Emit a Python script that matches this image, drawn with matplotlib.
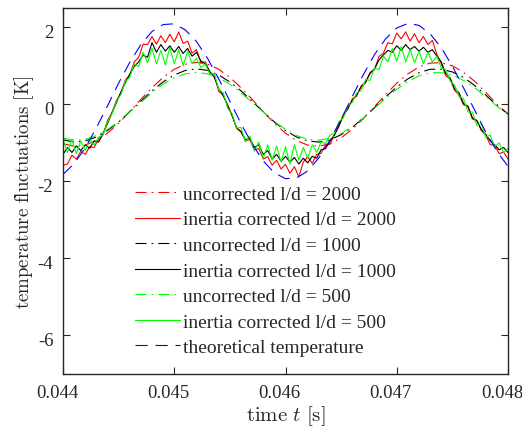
import numpy as np
import matplotlib
matplotlib.use("Agg")
import matplotlib.pyplot as plt
import matplotlib.transforms as mtransforms

plt.rcParams['font.family'] = ['Liberation Serif', 'DejaVu Serif']
plt.rcParams['mathtext.fontset'] = 'cm'
plt.rcParams['axes.unicode_minus'] = False

# smooth curves, sampled every 0.1 ms
t_smooth = np.linspace(0.044, 0.048, 41)

theoretical = [-1.82, -1.54, -1.13, -0.61, -0.04, 0.55, 1.09, 1.55, 1.89, 2.07,
               2.09, 1.93, 1.63, 1.19, 0.66, 0.08, -0.50, -1.03, -1.47, -1.78,
               -1.93, -1.91, -1.73, -1.39, -0.93, -0.39, 0.20, 0.77, 1.29, 1.70,
               1.98, 2.10, 2.05, 1.83, 1.47, 0.99, 0.43, -0.15, -0.72, -1.22, -1.61]

uncorr_2000 = [-1.02, -1.09, -1.06, -0.94, -0.75, -0.49, -0.19, 0.13, 0.43, 0.70,
               0.91, 1.04, 1.09, 1.04, 0.91, 0.70, 0.43, 0.13, -0.19, -0.49,
               -0.75, -0.94, -1.06, -1.09, -1.02, -0.87, -0.65, -0.37, -0.06, 0.25,
               0.55, 0.79, 0.97, 1.07, 1.08, 1.00, 0.83, 0.60, 0.31, 0.00, -0.25]

uncorr_1000 = [-0.92, -0.98, -0.95, -0.85, -0.68, -0.46, -0.19, 0.08, 0.35, 0.58,
               0.76, 0.88, 0.92, 0.88, 0.76, 0.58, 0.35, 0.08, -0.19, -0.46,
               -0.68, -0.85, -0.95, -0.98, -0.92, -0.79, -0.60, -0.35, -0.09, 0.19,
               0.45, 0.66, 0.82, 0.91, 0.91, 0.84, 0.70, 0.49, 0.24, -0.03, -0.25]

uncorr_500 = [-0.88, -0.93, -0.91, -0.81, -0.65, -0.45, -0.20, 0.05, 0.30, 0.52,
              0.69, 0.79, 0.83, 0.79, 0.69, 0.52, 0.30, 0.05, -0.20, -0.45,
              -0.65, -0.81, -0.91, -0.93, -0.88, -0.76, -0.58, -0.35, -0.10, 0.15,
              0.39, 0.59, 0.74, 0.82, 0.82, 0.76, 0.62, 0.43, 0.20, -0.05, -0.25]

# corrected (noisy) signals, sampled every 0.04 ms
t_noisy = np.linspace(0.044, 0.048, 101)

corr_2000 = [-1.58, -1.55, -1.32, -1.42, -1.22, -1.30, -1.10, -1.12, -0.90, -0.79,
             -0.42, -0.22, 0.10, 0.28, 0.63, 0.76, 1.10, 1.22, 1.56, 1.55,
             1.76, 1.56, 1.78, 1.60, 1.82, 1.62, 1.88, 1.58, 1.64, 1.33,
             1.42, 1.08, 1.10, 0.82, 0.78, 0.33, 0.26, -0.04, -0.27, -0.63,
             -0.70, -0.95, -0.92, -1.18, -1.15, -1.42, -1.36, -1.58, -1.45, -1.68,
             -1.56, -1.79, -1.62, -1.88, -1.50, -1.36, -1.53, -1.30, -1.27, -1.05,
             -1.04, -0.78, -0.58, -0.26, -0.13, 0.14, 0.21, 0.48, 0.56, 0.83,
             0.90, 1.24, 1.33, 1.60, 1.57, 1.85, 1.70, 1.88, 1.64, 1.83,
             1.60, 1.76, 1.55, 1.66, 1.30, 1.06, 0.74, 0.66, 0.36, 0.24,
             -0.01, -0.06, -0.38, -0.43, -0.68, -0.80, -1.05, -1.06, -1.28, -1.24,
             -1.42]

corr_1000 = [-1.30, -1.12, -1.25, -1.08, -1.20, -1.05, -1.14, -0.95, -0.98, -0.76,
             -0.50, -0.22, 0.04, 0.32, 0.56, 0.78, 0.98, 1.10, 1.28, 1.22,
             1.60, 1.35, 1.55, 1.38, 1.52, 1.35, 1.50, 1.32, 1.45, 1.25,
             1.35, 1.12, 1.05, 0.85, 0.70, 0.40, 0.22, -0.02, -0.30, -0.60,
             -0.72, -0.92, -0.88, -1.12, -1.05, -1.30, -1.20, -1.42, -1.30, -1.48,
             -1.35, -1.50, -1.38, -1.55, -1.40, -1.52, -1.35, -1.40, -1.18, -1.15,
             -0.95, -0.80, -0.55, -0.30, -0.10, 0.10, 0.25, 0.45, 0.58, 0.80,
             0.92, 1.15, 1.28, 1.40, 1.35, 1.52, 1.40, 1.55, 1.42, 1.50,
             1.38, 1.48, 1.35, 1.42, 1.25, 1.10, 0.80, 0.68, 0.40, 0.30,
             0.02, -0.05, -0.35, -0.42, -0.65, -0.78, -0.95, -1.05, -1.18, -1.12,
             -1.25]

corr_500 = [-0.90, -1.25, -0.92, -1.28, -0.95, -1.20, -0.92, -1.05, -0.85, -0.80,
            -0.45, -0.25, 0.08, 0.25, 0.60, 0.70, 1.05, 0.98, 1.35, 1.08,
            1.45, 1.05, 1.40, 1.02, 1.48, 1.05, 1.42, 1.00, 1.38, 1.05,
            1.20, 0.95, 1.05, 0.78, 0.80, 0.38, 0.30, -0.10, -0.25, -0.62,
            -0.60, -0.98, -0.82, -1.22, -0.98, -1.40, -1.05, -1.45, -1.08, -1.50,
            -1.10, -1.55, -1.05, -1.45, -1.12, -1.40, -1.05, -1.25, -0.98, -1.02,
            -0.80, -0.75, -0.45, -0.35, -0.05, 0.05, 0.30, 0.35, 0.65, 0.62,
            0.95, 0.90, 1.25, 1.10, 1.45, 1.12, 1.50, 1.10, 1.42, 1.08,
            1.38, 1.05, 1.35, 1.10, 1.25, 0.95, 0.90, 0.60, 0.50, 0.20,
            0.15, -0.20, -0.20, -0.55, -0.50, -0.85, -0.80, -1.10, -1.00, -1.25,
            -1.15]

x_ticks = [0.044, 0.045, 0.046, 0.047, 0.048]
y_ticks = [-6, -4, -2, 0, 2]

lw = 0.8
dashdot = (0, (10, 4.5, 1.5, 4.5))
dashed = (0, (11, 7))

fig = plt.figure(figsize=(5.22, 4.35), dpi=100)
ax = fig.add_axes([63 / 522, 1 - 375 / 435, 445 / 522, 366 / 435])

ax.plot(t_smooth, uncorr_2000, color='#ff0000', lw=lw, ls=dashdot, label='uncorrected l/d = 2000')
ax.plot(t_noisy, corr_2000, color='#ff0000', lw=lw, label='inertia corrected l/d = 2000')
ax.plot(t_smooth, uncorr_1000, color='black', lw=lw, ls=dashdot, label='uncorrected l/d = 1000')
ax.plot(t_noisy, corr_1000, color='black', lw=lw, label='inertia corrected l/d = 1000')
ax.plot(t_smooth, uncorr_500, color='#00ff00', lw=lw, ls=dashdot, label='uncorrected l/d = 500')
ax.plot(t_noisy, corr_500, color='#00ff00', lw=lw, label='inertia corrected l/d = 500')
ax.plot(t_smooth, theoretical, color='#0000ff', lw=lw, ls=dashed, label='theoretical temperature')

ax.set_xlim(0.044, 0.048)
ax.set_ylim(-7, 2.5)
ax.set_xticks(x_ticks)
ax.set_xticklabels(['%.3f' % v for v in x_ticks])
ax.set_yticks(y_ticks)
ax.tick_params(direction='in', top=True, right=True, length=5, width=0.8,
               labelsize=13.5, colors='#262626', pad=7)
for s in ax.spines.values():
    s.set_color('#262626')
    s.set_linewidth(1.0)

# tick labels sit a little left / below their ticks in the original
dx = mtransforms.ScaledTranslation(-6 / 100, 0, fig.dpi_scale_trans)
for lab in ax.get_xticklabels():
    lab.set_transform(lab.get_transform() + dx)
dy = mtransforms.ScaledTranslation(0, -3 / 100, fig.dpi_scale_trans)
for lab in ax.get_yticklabels():
    lab.set_transform(lab.get_transform() + dy)

ax.set_xlabel(r'$\mathrm{time}\ t\ \mathrm{[s]}$', fontsize=15, color='#262626', labelpad=2)
ax.set_ylabel(r'$\mathrm{temperature\ fluctuations\ [K]}$', fontsize=13.6, color='#262626', labelpad=1)

leg = ax.legend(loc='upper left', bbox_to_anchor=(0.162, 0.516), frameon=False,
                fontsize=14, handlelength=2.3, handletextpad=0.15, labelspacing=0.41,
                borderaxespad=0, borderpad=0)
for txt in leg.get_texts():
    txt.set_color('#262626')

fig.savefig('out.png', dpi=100)
